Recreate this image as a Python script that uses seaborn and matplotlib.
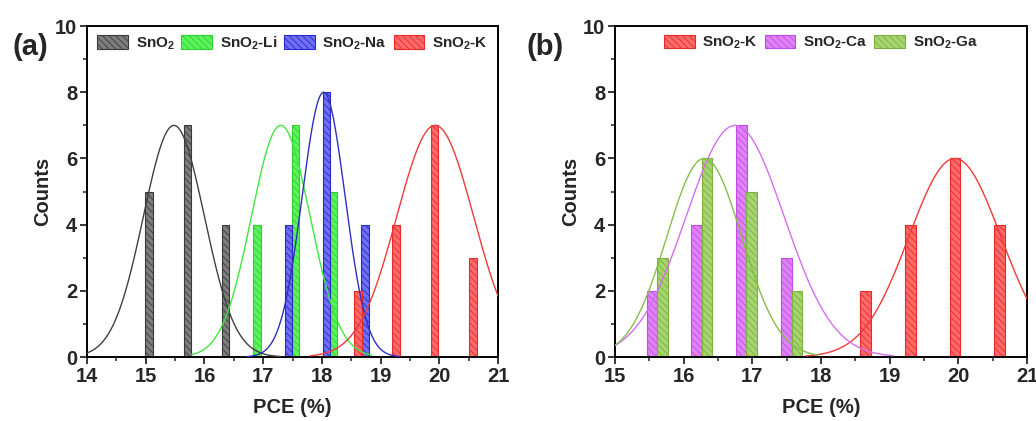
import numpy as np
import pandas as pd
import matplotlib
matplotlib.use("Agg")
import matplotlib.pyplot as plt
from matplotlib.patches import Patch
from matplotlib.ticker import MultipleLocator
import seaborn as sns

sns.set_theme(style="ticks")
plt.rcParams["font.family"] = ["Liberation Sans", "DejaVu Sans"]
plt.rcParams["font.weight"] = "bold"
plt.rcParams["mathtext.fontset"] = "custom"
plt.rcParams["mathtext.rm"] = "Liberation Sans:bold"
plt.rcParams["mathtext.bf"] = "Liberation Sans:bold"
plt.rcParams["mathtext.default"] = "bf"
plt.rcParams["hatch.linewidth"] = 0.6

# ---- panel (a): PCE histograms ----
a_names = ["SnO$_2$", "SnO$_2$-Li", "SnO$_2$-Na", "SnO$_2$-K"]
a_centers = [
    [15.06, 15.71, 16.36],
    [16.90, 17.55, 18.20],
    [17.43, 18.08, 18.73],
    [18.62, 19.26, 19.92, 20.57],
]
a_counts = [
    [5, 7, 4],
    [4, 7, 5],
    [4, 8, 4],
    [2, 4, 7, 3],
]
# normal fits: mean, sigma, peak height, drawn range
a_mean = [15.48, 17.30, 18.03, 19.93]
a_sigma = [0.52, 0.50, 0.366, 0.655]
a_peak = [7, 7, 8, 7]
a_range = [(14.0, 17.3), (15.78, 18.85), (16.72, 19.33), (17.8, 21.0)]

# ---- panel (b) ----
b_names = ["SnO$_2$-K", "SnO$_2$-Ca", "SnO$_2$-Ga"]
b_centers = [
    [18.65, 19.30, 19.95, 20.60],
    [15.54, 16.19, 16.84, 17.50],
    [15.69, 16.34, 16.99, 17.65],
]
b_counts = [
    [2, 4, 6, 4],
    [2, 4, 7, 3],
    [3, 6, 5, 2],
]
b_mean = [19.95, 16.75, 16.30]
b_sigma = [0.67, 0.714, 0.545]
b_peak = [6, 7, 6]
b_range = [(17.78, 21.0), (15.0, 19.05), (15.0, 17.95)]

fill = {
    "SnO$_2$": "#7d7d7d",
    "SnO$_2$-Li": "#5cf25c",
    "SnO$_2$-Na": "#6f6ff5",
    "SnO$_2$-K": "#ff6a6a",
    "SnO$_2$-Ca": "#df82f5",
    "SnO$_2$-Ga": "#a6d46e",
}
edge = {
    "SnO$_2$": "#3a3a3a",
    "SnO$_2$-Li": "#2fd12f",
    "SnO$_2$-Na": "#2828cc",
    "SnO$_2$-K": "#e82a2a",
    "SnO$_2$-Ca": "#c44ae6",
    "SnO$_2$-Ga": "#7cb040",
}
line = {
    "SnO$_2$": "#404040",
    "SnO$_2$-Li": "#3ee83e",
    "SnO$_2$-Na": "#3030c0",
    "SnO$_2$-K": "#f03a3a",
    "SnO$_2$-Ca": "#d46ef0",
    "SnO$_2$-Ga": "#86bd4a",
}
HATCH = "\\\\\\\\\\"

fig = plt.figure(figsize=(10.36, 4.21), dpi=100)
ax_a = fig.add_axes([0.084, 0.152, 0.3967, 0.786])
ax_b = fig.add_axes([0.5936, 0.152, 0.3977, 0.786])


def draw_panel(ax, names, centers, counts, means, sigmas, peaks, ranges,
               bar_w, xlim, legend_cols):
    for name, xs, ys in zip(names, centers, counts):
        df = pd.DataFrame({"PCE": xs, "Counts": ys})
        spacing = float(np.min(np.diff(sorted(xs))))
        n_before = len(ax.patches)
        sns.barplot(data=df, x="PCE", y="Counts", native_scale=True,
                    width=bar_w / spacing, errorbar=None, ax=ax,
                    color=fill[name], saturation=1)
        for p in ax.patches[n_before:]:
            p.set_edgecolor(edge[name])
            p.set_hatch(HATCH)
            p.set_linewidth(0.8)
            p.set_zorder(2)
    for name, m, s, pk, (x0, x1) in zip(names, means, sigmas, peaks, ranges):
        gx = np.linspace(x0, x1, 300)
        gy = pk * np.exp(-(gx - m) ** 2 / (2 * s ** 2))
        sns.lineplot(x=gx, y=gy, ax=ax, color=line[name], lw=1.0, zorder=3)

    ax.set_xlim(*xlim)
    ax.set_ylim(0, 10)
    ax.xaxis.set_major_locator(MultipleLocator(1))
    ax.xaxis.set_minor_locator(MultipleLocator(0.5))
    ax.yaxis.set_major_locator(MultipleLocator(2))
    ax.yaxis.set_minor_locator(MultipleLocator(1))
    ax.tick_params(which="major", direction="out", length=5, width=1.3,
                   labelsize=14.5, pad=2, top=False, right=False)
    ax.tick_params(which="minor", direction="out", length=3, width=1.1,
                   top=False, right=False)
    for lab in ax.get_xticklabels() + ax.get_yticklabels():
        lab.set_fontweight("bold")
    for sp in ax.spines.values():
        sp.set_visible(True)
        sp.set_linewidth(1.4)
        sp.set_color("black")
    ax.set_xlabel("PCE (%)", fontsize=14.5, fontweight="bold", labelpad=9)
    ax.set_ylabel("Counts", fontsize=14.5, fontweight="bold", labelpad=2)

    handles = [Patch(facecolor=fill[n], edgecolor=edge[n], hatch=HATCH,
                     linewidth=0.8, label=n) for n in names]
    ax.legend(handles=handles, ncol=legend_cols, loc="upper center",
              frameon=False, handlelength=2.0, handleheight=1.0,
              handletextpad=0.5, columnspacing=0.45, borderaxespad=0.15,
              prop={"weight": "bold", "size": 11})


draw_panel(ax_a, a_names, a_centers, a_counts, a_mean, a_sigma, a_peak,
           a_range, 0.13, (14, 21), 4)
draw_panel(ax_b, b_names, b_centers, b_counts, b_mean, b_sigma, b_peak,
           b_range, 0.155, (15, 21), 3)

fig.text(0.012, 0.87, "(a)", fontsize=21, fontweight="bold")
fig.text(0.508, 0.87, "(b)", fontsize=21, fontweight="bold")

fig.savefig("out.png", dpi=100)
